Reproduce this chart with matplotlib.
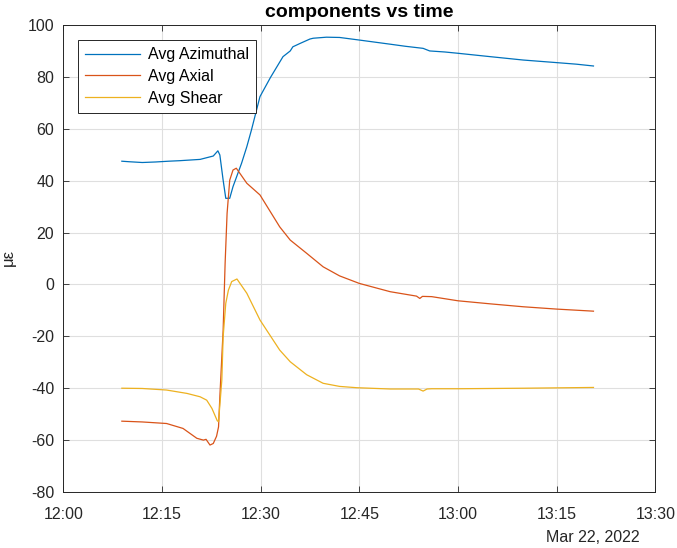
import datetime as dt
import matplotlib
matplotlib.use('Agg')
import matplotlib.pyplot as plt
import matplotlib.dates as mdates

# minutes after 12:00 on Mar 22, 2022 and strain values (µε)
azi_t = [8.9, 10, 12, 14, 16, 17.7, 20.8, 22.8, 23.5, 23.8, 24.3, 24.7, 25.3, 25.8,
         27.1, 27.9, 28.6, 29.9, 31.5, 33.4, 34.5, 34.9, 36.0, 37.5, 38.0, 40.0, 42,
         45, 49.7, 52, 54.7, 55.7, 58, 60, 64.9, 69.9, 75, 78, 80.6]
azi_v = [47.5, 47.3, 47.0, 47.2, 47.5, 47.7, 48.2, 49.5, 51.5, 49.9, 40.2, 33.2, 33.2, 37.7,
         46.7, 53.1, 59.5, 72.4, 79.8, 87.8, 90.0, 91.6, 92.9, 94.6, 94.9, 95.3, 95.2,
         94.2, 92.6, 91.8, 91.0, 90.0, 89.6, 89.1, 87.8, 86.5, 85.5, 84.9, 84.2]

ax_t = [8.9, 12, 15.7, 18.2, 20.3, 21.3, 21.7, 22.3, 22.8, 23.3, 23.6, 23.8, 24.3, 24.6,
        24.9, 25.3, 25.8, 26.3, 27.9, 29.9, 32.9, 34.5, 37.0, 39.5, 42, 45, 49.7, 53.7,
        54.2, 54.6, 56, 60, 65, 69.9, 75, 80.6]
ax_v = [-52.7, -53.0, -53.6, -55.5, -59.3, -60.0, -59.7, -61.9, -61.3, -58.5, -54.9, -43.3,
        -17.6, 8.1, 27.4, 40.2, 44.1, 44.8, 39.0, 34.5, 22.2, 17.1, 12.0, 6.8, 3.3, 0.4,
        -2.8, -4.5, -5.4, -4.6, -4.7, -6.3, -7.5, -8.6, -9.5, -10.3]

sh_t = [8.9, 12, 15.7, 18.8, 20.8, 21.8, 22.6, 23.4, 23.6, 24.1, 24.3, 24.7, 25.1, 25.6,
        26.4, 27.9, 29.9, 32.9, 34.5, 37, 39.5, 42, 44.6, 49.7, 54.0, 54.7, 55.3, 56, 60,
        70, 80.6]
sh_v = [-40.0, -40.1, -40.7, -42.0, -43.3, -44.6, -47.8, -52.5, -52.9, -36.9, -20.2, -7.3,
        -2.2, 1.1, 2.1, -3.4, -13.7, -25.3, -29.8, -34.8, -38.1, -39.3, -39.8, -40.3, -40.3,
        -41.1, -40.3, -40.2, -40.2, -40.0, -39.7]

labels = ['Avg Azimuthal', 'Avg Axial', 'Avg Shear']
colors = ['#0072BD', '#D95319', '#EDB120']

t0 = dt.datetime(2022, 3, 22, 12, 0)
def to_time(mins):
    return [t0 + dt.timedelta(minutes=m) for m in mins]

plt.rcParams['font.family'] = ['Liberation Sans', 'DejaVu Sans']
plt.rcParams['axes.unicode_minus'] = False
dark = '#262626'

fig = plt.figure(figsize=(6.77, 5.48), dpi=100)
ax = fig.add_axes([63.3/677, 1 - 492/548, (655.3 - 63.3)/677, (492 - 25)/548])

for t, v, lab, c in zip([azi_t, ax_t, sh_t], [azi_v, ax_v, sh_v], labels, colors):
    ax.plot(to_time(t), v, color=c, lw=0.9, label=lab)

ax.set_xlim(t0, t0 + dt.timedelta(minutes=90))
ax.set_ylim(-80, 100)
ax.set_yticks(range(-80, 101, 20))
ax.xaxis.set_major_locator(mdates.MinuteLocator(byminute=[0, 15, 30, 45]))
ax.xaxis.set_major_formatter(mdates.DateFormatter('%H:%M'))

ax.grid(True, color='#dfdfdf', lw=0.8)
ax.set_axisbelow(True)
ax.tick_params(direction='in', top=True, right=True, length=4, width=0.6,
               colors=dark, labelsize=11.5)
ax.tick_params(axis='x', pad=11)
ax.tick_params(axis='y', pad=6.5)
for s in ax.spines.values():
    s.set_color(dark)
    s.set_linewidth(0.7)

ax.set_title('components vs time', fontsize=14, fontweight='bold', color='black', pad=6)
# y label placed by hand, it sits right at the left edge in the original
fig.text(8/677, 1 - 257/548, 'με', rotation=90, ha='center', va='center',
         fontsize=12, color=dark)
fig.text(640/677, 1 - 538/548, 'Mar 22, 2022', ha='right', va='center',
         fontsize=11.5, color=dark)

leg = ax.legend(loc='upper left', bbox_to_anchor=(0.025, 0.968), fontsize=11.5,
                handlelength=3.4, labelspacing=0.42, borderpad=0.45, handletextpad=0.5,
                fancybox=False, framealpha=1, edgecolor=dark, borderaxespad=0)
leg.get_frame().set_linewidth(0.7)
for t in leg.get_texts():
    t.set_color('black')

fig.savefig('out.png', dpi=100)
